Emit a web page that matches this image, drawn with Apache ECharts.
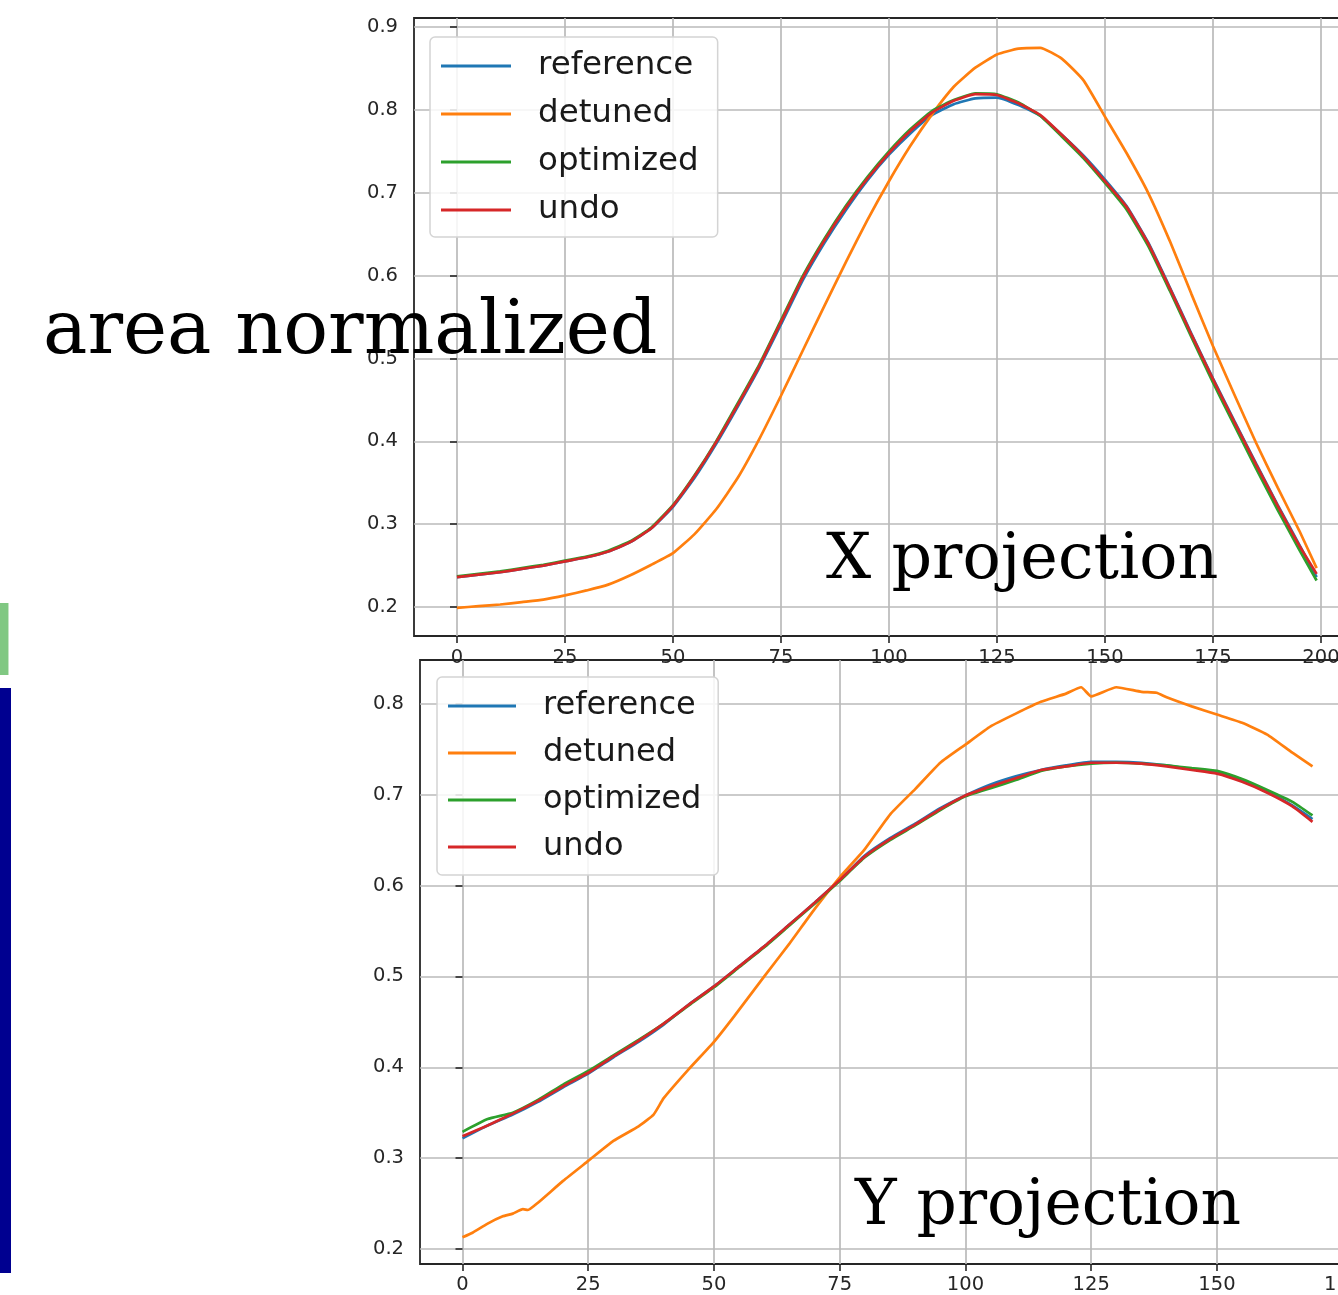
<!DOCTYPE html>
<html><head><meta charset="utf-8">
<script src="https://cdn.jsdelivr.net/npm/echarts@6/dist/echarts.min.js"></script>
<style>html,body{margin:0;padding:0;background:#fff;overflow:hidden;width:1338px;height:1295px}#c{width:1400px;height:1295px}</style>
</head><body><div id="c"></div><script>
// ---------- data ----------
const seriesNames = ['reference', 'detuned', 'optimized', 'undo'];
const seriesColors = ['#1f77b4', '#ff7f0e', '#2ca02c', '#d62728'];

// X projection (top panel)
const xTop = [0,5,10,15,20,25,30,35,40,45,50,55,60,65,70,75,80,85,90,95,100,105,110,115,120,125,130,135,140,145,150,155,160,165,170,175,180,185,190,195,199];
const refTop  = [0.236,0.239,0.242,0.246,0.250,0.255,0.260,0.267,0.278,0.295,0.321,0.356,0.397,0.442,0.489,0.541,0.594,0.639,0.679,0.715,0.746,0.772,0.794,0.807,0.814,0.815,0.806,0.793,0.770,0.745,0.716,0.684,0.640,0.586,0.530,0.476,0.424,0.373,0.323,0.275,0.236];
const detTop  = [0.199,0.201,0.203,0.206,0.209,0.214,0.220,0.227,0.238,0.251,0.265,0.288,0.318,0.356,0.403,0.455,0.509,0.563,0.616,0.667,0.714,0.757,0.795,0.828,0.851,0.867,0.874,0.875,0.862,0.836,0.792,0.748,0.700,0.642,0.578,0.515,0.456,0.398,0.344,0.292,0.247];
const optTop  = [0.237,0.240,0.243,0.247,0.251,0.256,0.261,0.268,0.279,0.296,0.323,0.359,0.400,0.446,0.493,0.546,0.599,0.644,0.684,0.719,0.750,0.777,0.799,0.812,0.820,0.819,0.809,0.793,0.768,0.742,0.712,0.680,0.636,0.582,0.526,0.471,0.419,0.367,0.317,0.269,0.232];
const undoTop = [0.236,0.239,0.242,0.246,0.250,0.255,0.260,0.267,0.278,0.295,0.322,0.358,0.399,0.444,0.491,0.544,0.597,0.642,0.682,0.717,0.748,0.775,0.797,0.811,0.819,0.818,0.808,0.794,0.770,0.744,0.714,0.683,0.639,0.585,0.529,0.475,0.423,0.372,0.322,0.274,0.240];

// Y projection (bottom panel)
const xBot = [0,5,10,15,20,25,30,35,40,45,50,55,60,65,70,75,80,85,90,95,100,105,110,115,120,125,130,135,140,145,150,155,160,165,169];
const refBot  = [0.322,0.336,0.348,0.362,0.378,0.393,0.411,0.428,0.447,0.469,0.489,0.511,0.533,0.557,0.581,0.606,0.633,0.652,0.668,0.685,0.699,0.711,0.720,0.727,0.732,0.736,0.736,0.735,0.732,0.728,0.725,0.715,0.703,0.688,0.673];
const optBot  = [0.329,0.343,0.350,0.364,0.381,0.396,0.413,0.430,0.448,0.468,0.488,0.510,0.532,0.556,0.580,0.605,0.631,0.650,0.666,0.683,0.698,0.707,0.716,0.726,0.731,0.734,0.735,0.734,0.732,0.729,0.726,0.717,0.705,0.692,0.677];
const undoBot = [0.324,0.336,0.349,0.363,0.379,0.394,0.412,0.429,0.448,0.469,0.489,0.511,0.533,0.557,0.581,0.606,0.632,0.651,0.667,0.684,0.699,0.709,0.718,0.727,0.731,0.735,0.735,0.734,0.731,0.727,0.723,0.714,0.702,0.687,0.670];
const xBotDet = [0,2,5,8,10,12,13,15,20,25,30,35,38,40,45,50,54,60,65,70,75,80,85,90,95,100,105,110,115,120,123,125,130,135,138,140,145,150,155,160,165,169];
const detBot  = [0.213,0.218,0.228,0.236,0.239,0.244,0.243,0.251,0.275,0.297,0.319,0.335,0.348,0.366,0.398,0.428,0.456,0.500,0.536,0.574,0.609,0.640,0.678,0.706,0.735,0.755,0.775,0.789,0.802,0.811,0.818,0.808,0.818,0.813,0.812,0.807,0.797,0.788,0.779,0.766,0.746,0.731];

// ticks
const topXTicks = [0,25,50,75,100,125,150,175,200];
const topYTicks = [0.2,0.3,0.4,0.5,0.6,0.7,0.8,0.9];
const botXTicks = [0,25,50,75,100,125,150,175];
const botYTicks = [0.2,0.3,0.4,0.5,0.6,0.7,0.8];

// ---------- chart ----------
const ink = '#262626';
const gridLine = {show: true, lineStyle: {color: '#bababa', width: 1.7}};
function axis(gi, min, max, ticks, margin, fmt) {
  return {
    type: 'value', gridIndex: gi, min: min, max: max,
    axisLine: {show: false},
    axisTick: {show: true, customValues: ticks, length: 7, lineStyle: {color: ink, width: 1.6}},
    axisLabel: {customValues: ticks, margin: margin, fontSize: 19.5, fontFamily: 'DejaVu Sans', color: ink, formatter: fmt},
    splitLine: gridLine
  };
}
const fx = v => String(Math.round(v));
const fy = v => v.toFixed(1);

function mk(name, xs, ys, gi, ci) {
  return {
    name: name, type: 'line', xAxisIndex: gi, yAxisIndex: gi,
    data: xs.map((x, i) => [x, ys[i]]),
    showSymbol: false, symbol: 'none', smooth: 0.15,
    lineStyle: {width: 2.7, color: seriesColors[ci]},
    itemStyle: {color: seriesColors[ci]},
    z: 2 + ci
  };
}

function legend(left, top, iw, gap, pad, fs) {
  return {
    data: seriesNames, orient: 'vertical', left: left, top: top,
    icon: 'rect', itemWidth: iw, itemHeight: 3, itemGap: gap,
    padding: pad, backgroundColor: 'rgba(255,255,255,0.85)',
    borderColor: '#d4d4d4', borderWidth: 1.5, borderRadius: 5,
    selectedMode: false,
    textStyle: {fontSize: fs, fontFamily: 'DejaVu Sans', color: '#1a1a1a', lineHeight: 36, padding: [0, 0, 0, 22]}
  };
}

const chart = echarts.init(document.getElementById('c'), null, {renderer: 'canvas'});
chart.setOption({
  animation: false,
  backgroundColor: '#fff',
  grid: [
    {left: 414, top: 18, width: 945.6, height: 618, show: true, borderColor: ink, borderWidth: 1.8, backgroundColor: 'transparent'},
    {left: 420, top: 660, width: 935, height: 608, show: true, borderColor: ink, borderWidth: 1.8, backgroundColor: 'transparent'}
  ],
  xAxis: [
    axis(0, -9.95, 208.95, topXTicks, 12, fx),
    axis(1, -8.45, 177.45, botXTicks, 11, fx)
  ],
  yAxis: [
    axis(0, 0.165, 0.911, topYTicks, 16, fy),
    axis(1, 0.1836, 0.848, botYTicks, 16, fy)
  ],
  legend: [
    legend(430, 37, 70, 12, [11, 19, 9, 11], 32.5),
    legend(437, 677, 68, 11, [11, 17, 10, 11], 32)
  ],
  series: [
    mk('reference', xTop, refTop, 0, 0),
    mk('detuned', xTop, detTop, 0, 1),
    mk('optimized', xTop, optTop, 0, 2),
    mk('undo', xTop, undoTop, 0, 3),
    mk('reference', xBot, refBot, 1, 0),
    mk('detuned', xBotDet, detBot, 1, 1),
    mk('optimized', xBot, optBot, 1, 2),
    mk('undo', xBot, undoBot, 1, 3)
  ],
  graphic: [
    {type: 'text', x: 43, y: 334, z: 100, style: {text: 'area normalized', fontSize: 74.5, fontFamily: 'DejaVu Serif', fill: '#000', align: 'left', verticalAlign: 'middle'}},
    {type: 'text', x: 826, y: 561, z: 100, style: {text: 'X projection', fontSize: 63.5, fontFamily: 'DejaVu Serif', fill: '#000', align: 'left', verticalAlign: 'middle'}},
    {type: 'text', x: 855, y: 1208, z: 100, style: {text: 'Y projection', fontSize: 63, fontFamily: 'DejaVu Serif', fill: '#000', align: 'left', verticalAlign: 'middle'}},
    {type: 'text', x: 17, y: 650, z: 100, style: {text: 'd', fontSize: 95, fontFamily: 'DejaVu Sans', fill: '#80c882', align: 'right', verticalAlign: 'middle'}},
    {type: 'rect', z: 100, shape: {x: 0, y: 688, width: 11, height: 585}, style: {fill: '#000090'}}
  ]
});
</script></body></html>
